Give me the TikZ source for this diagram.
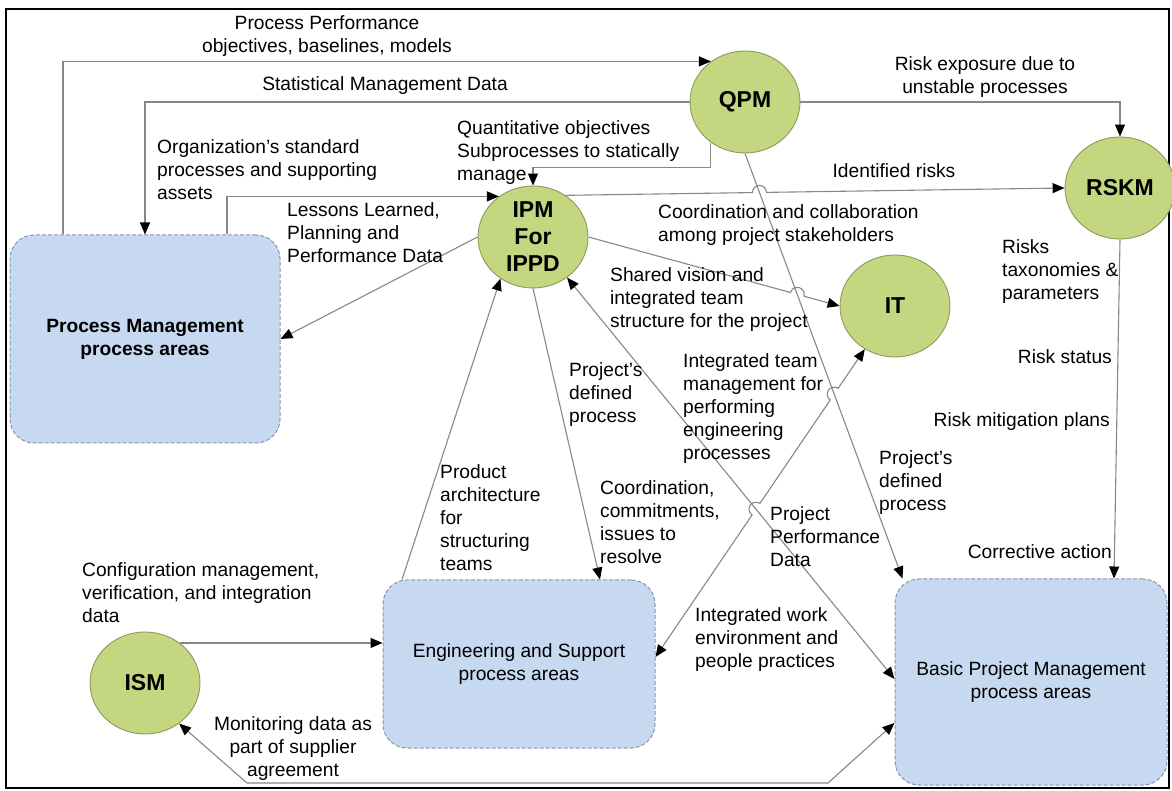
\documentclass[tikz,border=0pt]{standalone}
\usepackage{fontspec}
\setmainfont{Liberation Sans}
\usetikzlibrary{shapes.geometric,arrows.meta,calc,intersections}

\definecolor{bubble}{RGB}{196,215,128}
\definecolor{bubbleline}{RGB}{140,152,92}
\definecolor{areafill}{RGB}{198,217,241}
\definecolor{arealine}{RGB}{135,150,172}
\definecolor{wire}{RGB}{135,135,135}

\begin{document}
\begin{tikzpicture}[x=1pt, y=1pt,
  every node/.style = {inner sep=0pt, font=\fontsize{19.2}{23}\selectfont},
  proc/.style = {ellipse, draw=bubbleline, fill=bubble, line width=0.9pt,
    minimum width=110pt, minimum height=102pt, align=center,
    font=\bfseries\fontsize{23}{27}\selectfont},
  area/.style = {rectangle, rounded corners=24pt, draw=arealine, fill=areafill,
    dash pattern=on 4pt off 2pt, line width=1pt, align=center},
  tip/.style = {Triangle[length=12pt, width=10pt, color=black, fill=black]},
  flow/.style = {draw=wire, line width=1.1pt, -{Triangle[length=12pt, width=10pt, color=black, fill=black]}},
  flow2/.style = {draw=wire, line width=1.1pt,
    {Triangle[length=12pt, width=10pt, color=black, fill=black]}-{Triangle[length=12pt, width=10pt, color=black, fill=black]}}]

  \useasboundingbox (0,0) rectangle (1172,790);
  \draw[line width=2.5pt] (6,2) rectangle (1169,781);

  % process areas
  \node[proc] (qpm) at (745,688) {QPM};
  \node[proc] (rskm) at (1120,602) {RSKM};
  \node[proc] (ipm) at (533,553) {IPM\\For\\IPPD};
  \node[proc] (it) at (895,484) {IT};
  \node[proc] (ism) at (145,107) {ISM};

  \node[area, minimum width=270pt, minimum height=208pt,
    font=\bfseries\fontsize{19.2}{23}\selectfont] (pm) at (145,451)
    {Process Management\\process areas};
  \node[area, minimum width=272pt, minimum height=168pt] (eng) at (519,126)
    {Engineering and Support\\process areas};
  \node[area, minimum width=272pt, minimum height=206pt] (bpm) at (1031,108)
    {Basic Project Management\\process areas};

  % straight flows
  \draw[flow] ([xshift=-82pt]pm.north) |- (qpm.130);
  \draw[flow] (qpm.west) -| (pm.north);
  \draw[flow] ([xshift=82pt]pm.north) |- (ipm.130);
  \draw[flow] (ipm.west) -- (pm.east);
  \draw[flow] (qpm.230) |- ([yshift=18pt]ipm.north) -- (ipm.north);
  \draw[flow] (qpm.east) -| (rskm.north);
  \draw[flow] (ipm.south) -- ([xshift=81pt]eng.north);
  \draw[flow] ([xshift=-117pt]eng.north) -- (ipm.232);
  \draw[flow] (ism.49) -- (ism.49 -| eng.west);
  \draw[flow] (rskm.south) -- ([xshift=83pt]bpm.north);
  \draw[flow2] (ism.310) -- (247,7) -- (828,7) -- ([yshift=-41pt]bpm.west);
  \draw[flow, name path=qb] (qpm.south) -- ([xshift=8pt]bpm.north west);
  \draw[flow2, name path=ib] (ipm.310) -- ([yshift=3pt]bpm.west);

  % flows with line jumps
  \coordinate (te0) at ([yshift=7pt]eng.east);
  \path[name path=ir] (ipm.52) -- (rskm.west);
  \path[name path=ii] (ipm.east) -- (it.west);
  \path[name path=te] (te0) -- (it.235);
  \path[name intersections={of=qb and ir, by=j1}];
  \path[name intersections={of=qb and ii, by=j2}];
  \path[name intersections={of=qb and te, by=j3}];
  \path[name intersections={of=ib and te, by=j4}];

  \draw[flow] let \p1 = ($(rskm.west)-(ipm.52)$), \n1 = {atan2(\y1,\x1)} in
    (ipm.52) -- ($(j1)!7pt!(ipm.52)$)
    arc[start angle=\n1+180, end angle=\n1, radius=7pt] -- (rskm.west);
  \draw[flow] let \p1 = ($(it.west)-(ipm.east)$), \n1 = {atan2(\y1,\x1)} in
    (ipm.east) -- ($(j2)!7pt!(ipm.east)$)
    arc[start angle=\n1+180, end angle=\n1, radius=7pt] -- (it.west);
  \draw[flow2] let \p1 = ($(it.235)-(te0)$), \n1 = {atan2(\y1,\x1)} in
    (te0) -- ($(j4)!7pt!(te0)$)
    arc[start angle=\n1+180, end angle=\n1, radius=7pt]
    -- ($(j3)!7pt!(te0)$)
    arc[start angle=\n1+180, end angle=\n1, radius=7pt] -- (it.235);

  % flow labels
  \node[align=center] (lppm) at (327,754) {Process Performance\\objectives, baselines, models};
  \node (lsmd) at (385,704) {Statistical Management Data};
  \node[anchor=west, align=left] (losp) at (157,620) {Organization’s standard\\processes and supporting\\assets};
  \node[anchor=west, align=left] (llpp) at (287,557) {Lessons Learned,\\Planning and\\Performance Data};
  \node[anchor=west, align=left] (lqos) at (457,637) {Quantitative objectives\\Subprocesses to statically\\manage};
  \node[align=center] (lrex) at (985,713) {Risk exposure due to\\unstable processes};
  \node (lidr) at (894,619) {Identified risks};
  \node[anchor=west, align=left] (lcoo) at (658,565) {Coordination and collaboration\\among project stakeholders};
  \node[anchor=west, align=left] (lshv) at (610,490) {Shared vision and\\integrated team\\structure for the project};
  \node[anchor=west, align=left] (lpdp) at (569,395) {Project’s\\defined\\process};
  \node[anchor=west, align=left] (litm) at (683,381) {Integrated team\\management for\\performing\\engineering\\processes};
  \node[anchor=west, align=left] (lpat) at (440,272) {Product\\architecture\\for\\structuring\\teams};
  \node[anchor=west, align=left] (lcci) at (600,268) {Coordination,\\commitments,\\issues to\\resolve};
  \node[anchor=west, align=left] (lpdq) at (879,307) {Project’s\\defined\\process};
  \node[anchor=west, align=left] (lppd) at (770,253) {Project\\Performance\\Data};
  \node[anchor=west, align=left] (liwe) at (695,150) {Integrated work\\environment and\\people practices};
  \node[anchor=west, align=left] (lrtp) at (1002,518) {Risks\\taxonomies \&\\parameters};
  \node[anchor=east] (lrst) at (1112,433) {Risk status};
  \node[anchor=east] (lrmp) at (1110,368) {Risk mitigation plans};
  \node[anchor=east] (lcor) at (1112,238) {Corrective action};
  \node[anchor=west, align=left] (lcvi) at (82,197) {Configuration management,\\verification, and integration\\data};
  \node[align=center] (lmds) at (293,41) {Monitoring data as\\part of supplier\\agreement};
\end{tikzpicture}
\end{document}
